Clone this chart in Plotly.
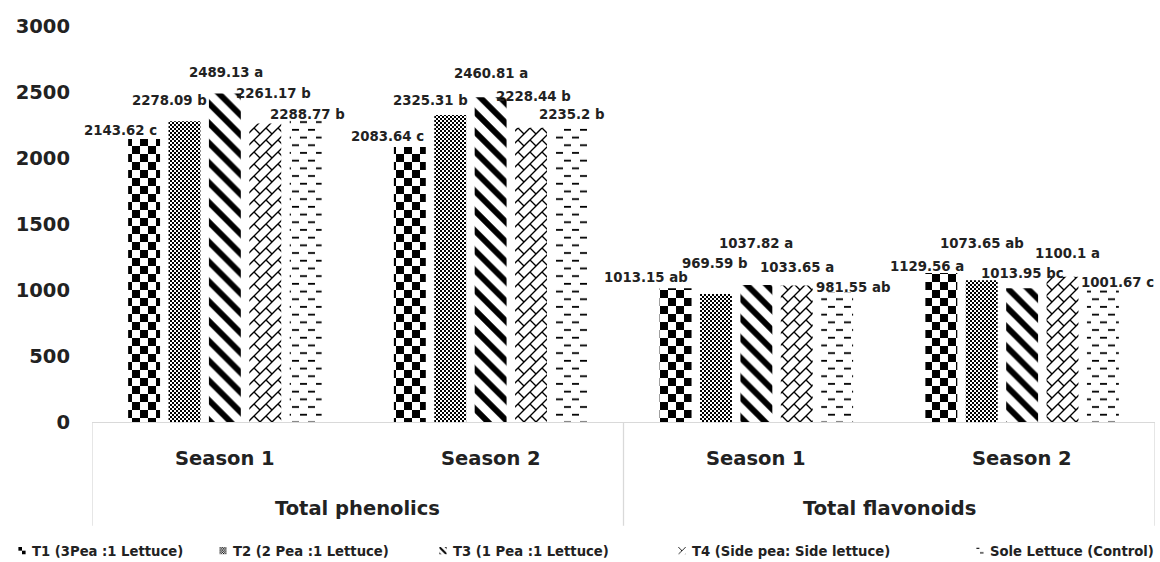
import plotly.graph_objects as go

# ---------------- data ----------------
groups = ["Total phenolics", "Total phenolics", "Total flavonoids", "Total flavonoids"]
seasons = ["Season 1", "Season 2", "Season 1", "Season 2"]
series_names = [
    "T1 (3Pea :1 Lettuce)",
    "T2 (2 Pea :1 Lettuce)",
    "T3 (1 Pea :1 Lettuce)",
    "T4 (Side pea: Side lettuce)",
    "Sole Lettuce (Control)",
]
t1_values = [2143.62, 2083.64, 1013.15, 1129.56]
t2_values = [2278.09, 2325.31, 969.59, 1073.65]
t3_values = [2489.13, 2460.81, 1037.82, 1013.95]
t4_values = [2261.17, 2228.44, 1033.65, 1100.1]
t5_values = [2288.77, 2235.2, 981.55, 1001.67]
t1_letters = ["c", "c", "ab", "a"]
t2_letters = ["b", "b", "b", "ab"]
t3_letters = ["a", "a", "a", "bc"]
t4_letters = ["b", "b", "a", "a"]
t5_letters = ["b", "b", "ab", "c"]
y_ticks = [0, 500, 1000, 1500, 2000, 2500, 3000]

values = [t1_values, t2_values, t3_values, t4_values, t5_values]
letters = [t1_letters, t2_letters, t3_letters, t4_letters, t5_letters]

# ---------------- style ----------------
FONT = "DejaVu Sans"
TXT = "#222222"
AXC = "#d9d9d9"
BARGAP = 0.24
GROUPGAP = 0.21
ML, MR, MT, MB = 92, 5, 26, 140
W, H = 1160, 562
PW = W - ML - MR
patterns = [
    dict(shape=".", size=11, solidity=0.5),
    dict(shape=".", size=4, solidity=0.5),
    dict(shape="\\", size=14, solidity=0.42),
    dict(shape="x", size=14, solidity=0.12),
    dict(shape="-", size=7.5, solidity=0.18),
]
# label nudges (px) relative to bar centre / bar top (Excel manual placement)
nudge_x = [[-24, -22, -30, -14], [-15, -20, -1, 0], [1, 0, 0, 0], [8, 2, 0, 5], [2, 0, 16, 15]]
nudge_y = [[9, 10, 11, 6], [21, 15, 31, 37], [21, 24, 42, 15], [30, 31, 18, 23], [5, 12, 5, 7]]
# legend text start positions (px from left of image)
legend_text_px = [32, 233, 453, 692, 990]
legend_y = -0.326

xpos = list(range(len(seasons)))
fig = go.Figure()
legend_keys = ["legend"] + [f"legend{k}" for k in range(2, len(series_names) + 1)]
for i, name in enumerate(series_names):
    fig.add_trace(go.Bar(
        x=xpos, y=values[i], name=name, legend=legend_keys[i],
        marker=dict(color="white", line=dict(width=0),
                    pattern=dict(fgcolor="black", bgcolor="white", fillmode="replace", **patterns[i])),
    ))

annotations = []
slot = (1 - BARGAP) / len(series_names)
for i in range(len(series_names)):
    for g in xpos:
        annotations.append(dict(
            x=g + (i - (len(series_names) - 1) / 2) * slot, y=values[i][g], xref="x", yref="y",
            text=f"{values[i][g]:g} {letters[i][g]}", showarrow=False,
            xshift=nudge_x[i][g], yshift=nudge_y[i][g], yanchor="middle",
            font=dict(family=FONT, size=13.3, color=TXT, weight="bold"),
        ))

for g in xpos:
    annotations.append(dict(x=g, y=0, xref="x", yref="paper", text=seasons[g], showarrow=False,
                            yshift=-36, yanchor="middle",
                            font=dict(family=FONT, size=19.5, color=TXT, weight="bold")))
outer = []
for g, name in enumerate(groups):
    if not outer or outer[-1][0] != name:
        outer.append([name, g, g])
    else:
        outer[-1][2] = g
shapes = []
for name, a, b in outer:
    annotations.append(dict(x=(a + b) / 2, y=0, xref="x", yref="paper", text=name, showarrow=False,
                            yshift=-86, yanchor="middle",
                            font=dict(family=FONT, size=19.5, color=TXT, weight="bold")))
bounds = sorted({a - 0.5 for _, a, _ in outer} | {b + 0.5 for _, _, b in outer})
for bx in bounds:
    shapes.append(dict(type="line", xref="x", yref="paper", x0=bx, x1=bx, y0=0, y1=-0.262,
                       line=dict(color=AXC, width=1.3)))

layout_legends = {}
for i, key in enumerate(legend_keys):
    layout_legends[key] = dict(
        orientation="h", x=(legend_text_px[i] - 40 - ML) / PW, xanchor="left",
        y=legend_y, yanchor="middle", bgcolor="rgba(0,0,0,0)",
        font=dict(family=FONT, size=13.2, color=TXT, weight="bold"), itemclick=False,
    )

fig.update_layout(
    width=W, height=H,
    margin=dict(l=ML, r=MR, t=MT, b=MB, autoexpand=False),
    paper_bgcolor="white", plot_bgcolor="white",
    barmode="group", bargap=BARGAP, bargroupgap=GROUPGAP,
    font=dict(family=FONT, color=TXT, weight="bold"),
    annotations=annotations, shapes=shapes,
    showlegend=True,
    xaxis=dict(range=[-0.5, len(seasons) - 0.5], showticklabels=False, showgrid=False, zeroline=False,
               showline=True, linecolor=AXC, linewidth=1.3, ticks="", automargin=False),
    yaxis=dict(range=[0, 3000], tickvals=y_ticks, showgrid=False, zeroline=False, showline=False,
               ticks="", ticklabelstandoff=21, automargin=False,
               tickfont=dict(family=FONT, size=19.5, color=TXT, weight="bold")),
    **layout_legends,
)

# Page without default body margin + Excel-like fill patterns
post_js = r"""
document.body.style.margin = '0';
document.documentElement.style.overflow = 'hidden';
var gd = document.getElementById('{plot_id}');
var NS = 'http://www.w3.org/2000/svg';
var svg = gd.querySelector('svg.main-svg');
var defs = document.createElementNS(NS, 'defs');
svg.insertBefore(defs, svg.firstChild);
function mk(tag, attrs, parent) {
  var e = document.createElementNS(NS, tag);
  for (var k in attrs) { e.setAttribute(k, attrs[k]); }
  parent.appendChild(e); return e;
}
function pat(id, w, h, build) {
  var p = mk('pattern', {id: id, patternUnits: 'userSpaceOnUse', width: w, height: h}, defs);
  mk('rect', {x: 0, y: 0, width: w, height: h, fill: 'white'}, p);
  build(p);
}
pat('xlpat0', 16, 16, function (p) {
  mk('rect', {x: 0, y: 0, width: 8, height: 8, fill: 'black'}, p);
  mk('rect', {x: 8, y: 8, width: 8, height: 8, fill: 'black'}, p);
});
pat('xlpat1', 4, 4, function (p) {
  mk('rect', {x: 0, y: 0, width: 2, height: 2, fill: 'black'}, p);
  mk('rect', {x: 2, y: 2, width: 2, height: 2, fill: 'black'}, p);
});
pat('xlpat3', 12, 12, function (p) {
  mk('path', {d: 'M-1,13L13,-1M-1,1L1,-1M11,13L13,11M6,6L12,12', stroke: 'black', 'stroke-width': 1.4, fill: 'none'}, p);
});
pat('xlpat4', 16, 15.4, function (p) {
  mk('rect', {x: 0, y: 2.8, width: 7, height: 1.8, fill: 'black'}, p);
  mk('rect', {x: 8, y: 10.5, width: 7, height: 1.8, fill: 'black'}, p);
});
var custom = {0: 'xlpat0', 1: 'xlpat1', 3: 'xlpat3', 4: 'xlpat4'};
function traceIndex(el) {
  var d = el.__data__;
  if (!d) return -1;
  if (Array.isArray(d)) d = d[0];
  if (Array.isArray(d)) d = d[0];
  return (d && d.trace) ? d.trace.index : -1;
}
function applyPatterns() {
  gd.querySelectorAll('g.trace.bars').forEach(function (g) {
    var idx = traceIndex(g);
    if (custom[idx] === undefined) return;
    g.querySelectorAll('path').forEach(function (p) { p.style.fill = 'url(#' + custom[idx] + ')'; });
  });
  gd.querySelectorAll('g.traces').forEach(function (g) {
    var idx = traceIndex(g);
    g.querySelectorAll('.legendpoints path').forEach(function (p) {
      if (custom[idx] !== undefined) { p.style.fill = 'url(#' + custom[idx] + ')'; }
      p.setAttribute('transform', 'translate(30,0) scale(0.6)');
    });
  });
}
applyPatterns();
gd.on('plotly_afterplot', applyPatterns);
"""

fig.write_html("out.html", post_script=post_js, config={"displayModeBar": False})
